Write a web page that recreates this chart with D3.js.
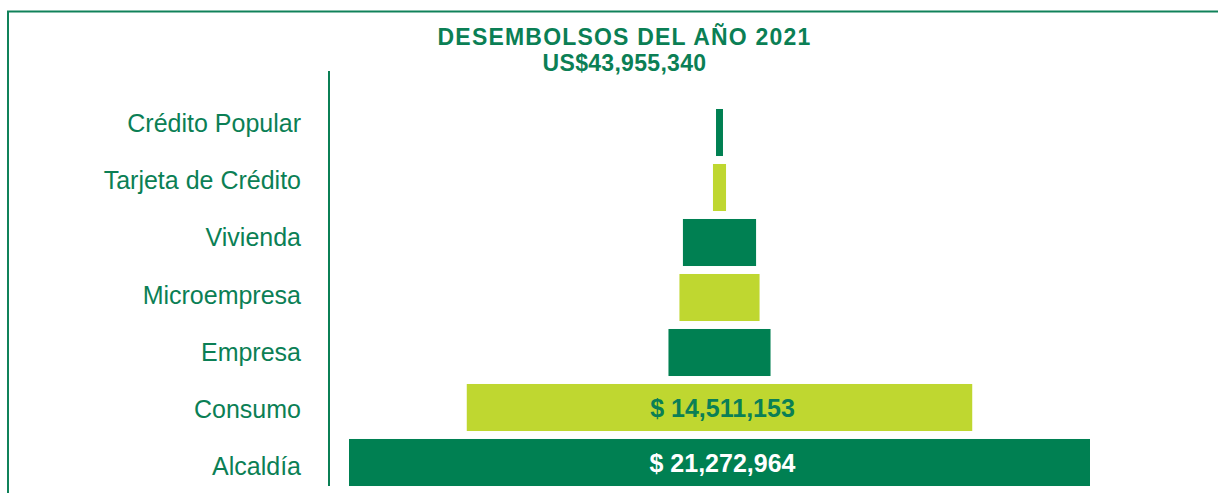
<!DOCTYPE html>
<html>
<head>
<meta charset="utf-8">
<script src="https://cdn.jsdelivr.net/npm/d3@7"></script>
<style>
  html, body { margin: 0; padding: 0; background: #fff; }
  svg { display: block; font-family: "Liberation Sans", Arial, sans-serif; }
</style>
</head>
<body>
<svg width="1218" height="493"></svg>
<script>
	// datos
	var categories = ["Crédito Popular", "Tarjeta de Crédito", "Vivienda", "Microempresa", "Empresa", "Consumo", "Alcaldía"];
	var values = [200000, 375000, 2100000, 2300000, 2930000, 14511153, 21272964];
	var titleLines = ["DESEMBOLSOS DEL AÑO 2021", "US$43,955,340"];
	var barColors = ["#008052", "#bfd730"];

	var green = "#0b7f55";
	var svg = d3.select("svg");
	var data = categories.map(function(c, i) { return {name: c, value: values[i]}; });

	// marco
	svg.append("rect")
		.attr("x", 8)
		.attr("y", 11.5)
		.attr("width", 1300)
		.attr("height", 600)
		.style("fill", "none")
		.style("stroke", "#10825a")
		.style("stroke-width", 2);

	// titulo
	svg.selectAll("text.title")
		.data(titleLines)
		.enter()
		.append("text")
		.attr("class", "title")
		.attr("x", 624.5)
		.attr("y", function(d, i) { return 45 + i * 26; })
		.attr("text-anchor", "middle")
		.style("font-size", "23px")
		.style("letter-spacing", function(d, i) { return i ? "0.3px" : "1.2px"; })
		.style("font-weight", "bold")
		.style("fill", green)
		.text(function(d) { return d; });

	var cx = 719.5;
	var x = d3.scaleLinear()
		.domain([0, d3.max(values)])
		.range([0, 741]);

	var y = d3.scaleBand()
		.domain(categories)
		.range([105, 490])
		.paddingInner(0.145)
		.paddingOuter(0.0725);

	// las etiquetas tienen otro espaciado
	var yLabel = d3.scaleBand()
		.domain(categories)
		.range([94.9, 495.1]);

	svg.append("line")
		.attr("x1", 329).attr("x2", 329)
		.attr("y1", 71).attr("y2", 486)
		.style("stroke", green)
		.style("stroke-width", 2);

	svg.selectAll("text.cat")
		.data(data)
		.enter()
		.append("text")
		.attr("class", "cat")
		.attr("x", 301)
		.attr("y", function(d) { return yLabel(d.name) + yLabel.bandwidth() / 2 + 8.5; })
		.attr("text-anchor", "end")
		.style("font-size", "25px")
		.style("fill", green)
		.text(function(d) { return d.name; });

	svg.selectAll("rect.bar")
		.data(data)
		.enter()
		.append("rect")
		.attr("class", "bar")
		.attr("x", function(d) { return cx - x(d.value) / 2; })
		.attr("y", function(d) { return y(d.name); })
		.attr("width", function(d) { return x(d.value); })
		.attr("height", y.bandwidth())
		.style("fill", function(d, i) { return barColors[i % 2]; });

	svg.selectAll("text.val")
		.data(data.filter(function(d) { return d.value > 10000000; }))
		.enter()
		.append("text")
		.attr("class", "val")
		.attr("x", cx + 3)
		.attr("y", function(d) { return y(d.name) + y.bandwidth() / 2 + 9; })
		.attr("text-anchor", "middle")
		.style("font-size", "25px")
		.style("font-weight", "bold")
		.style("fill", function(d) { return categories.indexOf(d.name) % 2 ? green : "#fff"; })
		.text(function(d) { return "$ " + d3.format(",")(d.value); });
</script>
</body>
</html>
